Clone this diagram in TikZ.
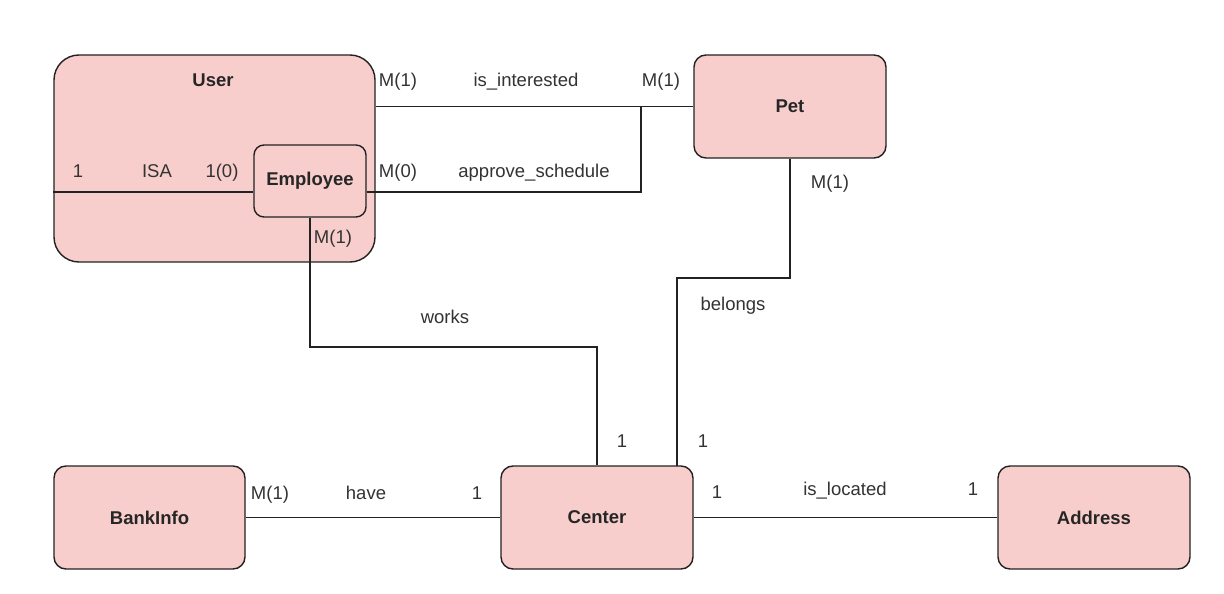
\documentclass[tikz,border=0pt]{standalone}
\usepackage{fontspec}
\setmainfont{Liberation Sans}
\usetikzlibrary{calc}
\definecolor{efill}{HTML}{F8CECC}
\definecolor{edraw}{HTML}{222222}
\definecolor{txt}{HTML}{333333}
\begin{document}
\begin{tikzpicture}[x=1pt,y=-1pt,
  font=\fontsize{18.5}{22}\selectfont,
  entity/.style={draw=edraw, fill=efill, line width=1.4pt, rounded corners=12pt,
    inner sep=0pt, font=\fontsize{18.5}{22}\selectfont\bfseries, text=black!85},
  lbl/.style={text=txt, inner sep=0pt, anchor=base},
  conn/.style={draw=edraw, line width=1.4pt}]
\useasboundingbox (0,0) rectangle (1224,594);
\fill[white] (0,0) rectangle (1224,594);

% entities
\node[entity, rounded corners=25pt, minimum width=321pt, minimum height=207pt] (user) at (214.5,158.5) {};
\node[lbl, font=\fontsize{18.5}{22}\selectfont\bfseries, text=black!85] (userlbl) at (213,87) {User};
\node[entity, rounded corners=10pt, minimum width=112pt, minimum height=72pt] (emp) at (310,181) {Employee};
\node[entity, minimum width=192pt, minimum height=103pt] (pet) at (790,106.5) {Pet};
\node[entity, minimum width=191pt, minimum height=103pt] (bank) at (149.5,517.5) {BankInfo};
\node[entity, minimum width=192pt, minimum height=103pt] (center) at (597,517.5) {Center};
\node[entity, minimum width=192pt, minimum height=103pt] (addr) at (1094,517.5) {Address};

% helper coordinates
\coordinate (isaY) at (0,192);
\coordinate (apx) at (641,106.5);
\coordinate (wk) at (597,347);
\coordinate (bl) at (677,278);

% connectors
\draw[conn] (user.west |- isaY) -- (emp.west |- isaY);
\draw[conn] (user.east |- pet.west) -- (pet.west);
\draw[conn] (emp.east |- isaY) -| (apx);
\draw[conn] (emp.south) |- (wk) -- (wk |- center.north);
\draw[conn] (pet.south) |- (bl) -- ($(bl |- center.north)+(0,1)$);
\draw[conn] (bank.east) -- (center.west);
\draw[conn] (center.east) -- (addr.west);

% labels
\node[lbl] (l1) at (78,177) {1};
\node[lbl] (l2) at (157,177) {ISA};
\node[lbl] (l3) at (222,177) {1(0)};
\node[lbl] (l4) at (398,87) {M(1)};
\node[lbl] (l5) at (526,87) {is\_interested};
\node[lbl] (l6) at (661,87) {M(1)};
\node[lbl] (l7) at (398,177) {M(0)};
\node[lbl] (l8) at (534,177) {approve\_schedule};
\node[lbl] (l9) at (333,243) {M(1)};
\node[lbl] (l10) at (830,188) {M(1)};
\node[lbl] (l11) at (445,323) {works};
\node[lbl] (l12) at (733,310) {belongs};
\node[lbl] (l13) at (622,447) {1};
\node[lbl] (l14) at (703,447) {1};
\node[lbl] (l15) at (270,499) {M(1)};
\node[lbl] (l16) at (366,499) {have};
\node[lbl] (l17) at (477,499) {1};
\node[lbl] (l18) at (717,498) {1};
\node[lbl] (l19) at (845,495) {is\_located};
\node[lbl] (l20) at (973,495) {1};
\end{tikzpicture}
\end{document}
